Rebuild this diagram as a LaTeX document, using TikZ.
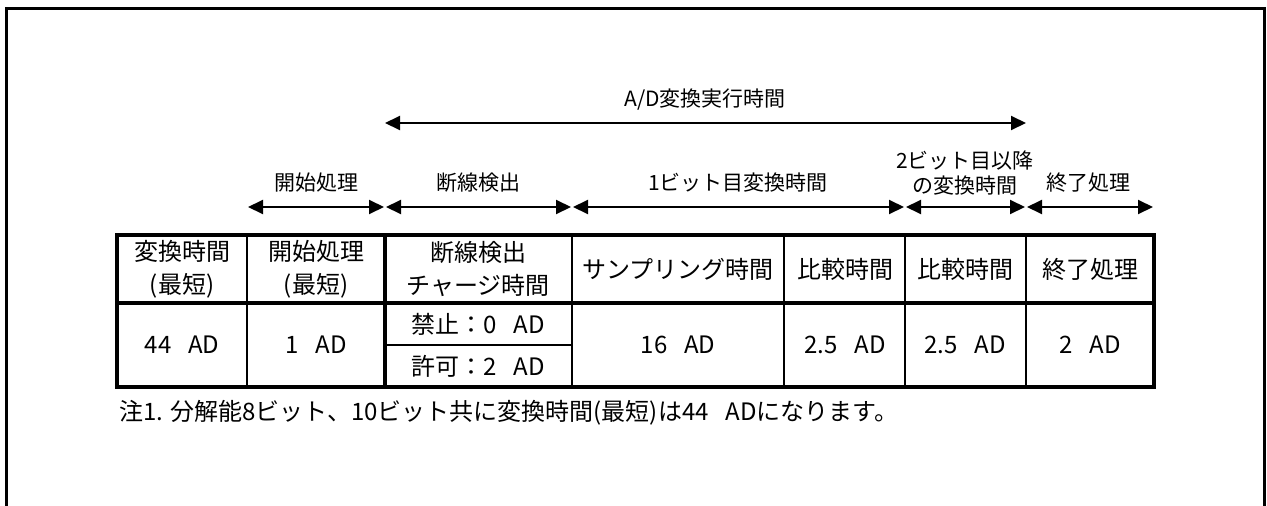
\documentclass[tikz,border=0pt]{standalone}
\usepackage{fontspec}
\setmainfont{Noto Sans CJK JP}
\usetikzlibrary{arrows.meta}
\newcommand{\adgap}{\hspace{0.7em}}
\begin{document}
\begin{tikzpicture}[x=1pt,y=-1pt,
  thickline/.style={line width=3.2pt},
  thinline/.style={line width=1.4pt},
  cell/.style={font=\fontsize{24}{33}\selectfont, align=center, inner sep=0pt},
  lab/.style={font=\fontsize{21}{25}\selectfont, align=center, inner sep=0pt},
  dimarrow/.style={line width=2pt, {Triangle[length=15pt,width=14pt]}-{Triangle[length=15pt,width=14pt]}}]
\useasboundingbox (0,0) rectangle (1267,506);
% frame
\draw[line width=3pt] (6.5,506) -- (6.5,8) -- (1264,8) -- (1264,506);
% table
\draw[thickline] (117,235) rectangle (1154,387);
\draw[thickline] (117,303) -- (1154,303);
\draw[thickline] (385,235) -- (385,387);
\foreach \x in {247,572,784,905,1026} \draw[thinline] (\x,235) -- (\x,387);
\draw[thinline] (385,345) -- (572,345);
% header cells
\node[cell] (h1) at (182,269) {変換時間\\(最短)};
\node[cell] (h2) at (316,269) {開始処理\\(最短)};
\node[cell] (h3) at (478,269) {断線検出\\チャージ時間};
\node[cell] (h4) at (678,269) {サンプリング時間};
\node[cell] (h5) at (845,269) {比較時間};
\node[cell] (h6) at (965,269) {比較時間};
\node[cell] (h7) at (1090,269) {終了処理};
% value cells
\node[cell] (v1) at (182,345) {44\adgap AD};
\node[cell] (v2) at (316,345) {1\adgap AD};
\node[cell] (v3a) at (478,324) {禁止：0\adgap AD};
\node[cell] (v3b) at (478,366) {許可：2\adgap AD};
\node[cell] (v4) at (678,345) {16\adgap AD};
\node[cell] (v5) at (845,345) {2.5\adgap AD};
\node[cell] (v6) at (965,345) {2.5\adgap AD};
\node[cell] (v7) at (1090,345) {2\adgap AD};
% arrow coordinates
\coordinate (t1) at (385,123);
\coordinate (t2) at (1026,123);
\coordinate (p1) at (247,207);
\coordinate (p2) at (385,207);
\coordinate (p3) at (572,207);
\coordinate (p4) at (905,207);
\coordinate (p5) at (1026,207);
\coordinate (p6) at (1154,207);
\draw[dimarrow] (t1) -- (t2);
\draw[dimarrow] ([xshift=1pt]p1) -- ([xshift=-1pt]p2);
\draw[dimarrow] ([xshift=1pt]p2) -- ([xshift=-1pt]p3);
\draw[dimarrow] ([xshift=1pt]p3) -- ([xshift=-1pt]p4);
\draw[dimarrow] ([xshift=1pt]p4) -- ([xshift=-1pt]p5);
\draw[dimarrow] ([xshift=1pt]p5) -- ([xshift=-1pt]p6);
% labels
\node[lab] (l0) at (705,100) {A/D変換実行時間};
\node[lab] (l1) at (316,183) {開始処理};
\node[lab] (l2) at (478,183) {断線検出};
\node[lab] (l3) at (738,183) {1ビット目変換時間};
\node[lab] (l4) at (965,173) {2ビット目以降\\の変換時間};
\node[lab] (l5) at (1088,183) {終了処理};
% note
\node[anchor=west, font=\fontsize{24}{28}\selectfont, inner sep=0pt] (note) at (119,413) {注1. 分解能8ビット、10ビット共に変換時間(最短)は44\adgap ADになります。};
\end{tikzpicture}
\end{document}
